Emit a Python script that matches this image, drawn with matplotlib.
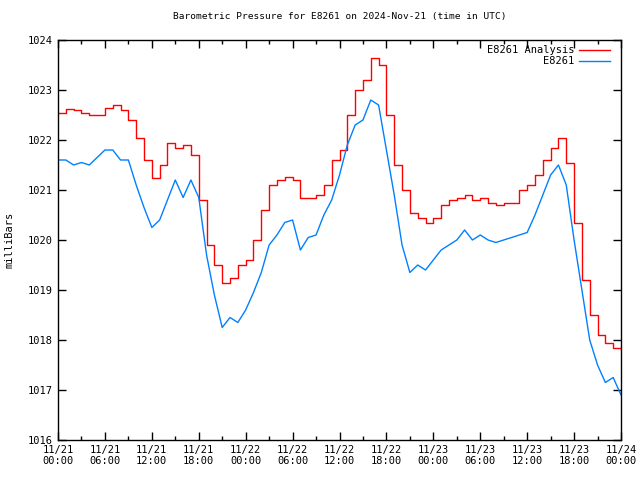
import numpy as np
import matplotlib
matplotlib.use('Agg')
import matplotlib.pyplot as plt

#Hourly readings, 2024-11-21 00:00 to 2024-11-24 00:00 UTC
hours = np.arange(0, 73)

#Analysis pressure (mb)
analysis = [1022.55, 1022.62, 1022.6, 1022.55, 1022.5, 1022.5, 1022.65, 1022.7, 1022.6, 1022.4,
            1022.05, 1021.6, 1021.25, 1021.5, 1021.95, 1021.85, 1021.9, 1021.7, 1020.8, 1019.9,
            1019.5, 1019.15, 1019.25, 1019.5, 1019.6, 1020.0, 1020.6, 1021.1, 1021.2, 1021.27,
            1021.2, 1020.85, 1020.85, 1020.9, 1021.1, 1021.6, 1021.8, 1022.5, 1023.0, 1023.2,
            1023.65, 1023.5, 1022.5, 1021.5, 1021.0, 1020.55, 1020.45, 1020.35, 1020.45, 1020.7,
            1020.8, 1020.85, 1020.9, 1020.8, 1020.85, 1020.75, 1020.7, 1020.75, 1020.75, 1021.0,
            1021.1, 1021.3, 1021.6, 1021.85, 1022.05, 1021.55, 1020.35, 1019.2, 1018.5, 1018.1,
            1017.95, 1017.85, 1017.8]

#Station observations (mb)
station = [1021.6, 1021.6, 1021.5, 1021.55, 1021.5, 1021.65, 1021.8, 1021.8, 1021.6, 1021.6,
           1021.1, 1020.65, 1020.25, 1020.4, 1020.8, 1021.2, 1020.85, 1021.2, 1020.85, 1019.7,
           1018.9, 1018.25, 1018.45, 1018.35, 1018.6, 1018.95, 1019.35, 1019.9, 1020.1, 1020.35,
           1020.4, 1019.8, 1020.05, 1020.1, 1020.5, 1020.8, 1021.3, 1021.9, 1022.3, 1022.4,
           1022.8, 1022.7, 1021.8, 1020.9, 1019.9, 1019.35, 1019.5, 1019.4, 1019.6, 1019.8,
           1019.9, 1020.0, 1020.2, 1020.0, 1020.1, 1020.0, 1019.95, 1020.0, 1020.05, 1020.1,
           1020.15, 1020.5, 1020.9, 1021.3, 1021.5, 1021.1, 1020.0, 1019.0, 1018.0, 1017.5,
           1017.15, 1017.25, 1016.9]

xtick_hours = np.arange(0, 73, 6)
xtick_labels = ['11/21\n00:00', '11/21\n06:00', '11/21\n12:00', '11/21\n18:00',
                '11/22\n00:00', '11/22\n06:00', '11/22\n12:00', '11/22\n18:00',
                '11/23\n00:00', '11/23\n06:00', '11/23\n12:00', '11/23\n18:00',
                '11/24\n00:00']

plt.rcParams['font.family'] = 'DejaVu Sans Mono'
plt.rcParams['font.size'] = 7.5

fig = plt.figure(figsize=(6.4, 4.8), dpi=100)
ax = fig.add_axes([58/640, 40/480, (621-58)/640, 400/480])

ax.plot(hours, analysis, color='#ff0000', lw=1, drawstyle='steps-post', label='E8261 Analysis')
ax.plot(hours, station, color='#0080ff', lw=1, label='E8261')

ax.set_xlim(0, 72)
ax.set_ylim(1016, 1024)
ax.set_xticks(xtick_hours)
ax.set_xticklabels(xtick_labels)
ax.set_xticks(np.arange(0, 73, 3), minor=True)
ax.set_yticks(np.arange(1016, 1025, 1))
ax.tick_params(direction='in', top=True, right=True, length=6, width=1)
ax.tick_params(which='minor', direction='in', top=True, length=3, width=1)
for s in ax.spines.values():
    s.set_linewidth(1)

ax.set_ylabel('milliBars', labelpad=10)
ax.set_title('Barometric Pressure for E8261 on 2024-Nov-21 (time in UTC)', fontsize=6.8, pad=15)
ax.legend(loc='upper right', frameon=False, markerfirst=False, handlelength=3,
          handletextpad=0.4, borderaxespad=0.2, borderpad=0.3, labelspacing=0.1,
          bbox_to_anchor=(0.99, 1.0))

fig.savefig('out.png')
